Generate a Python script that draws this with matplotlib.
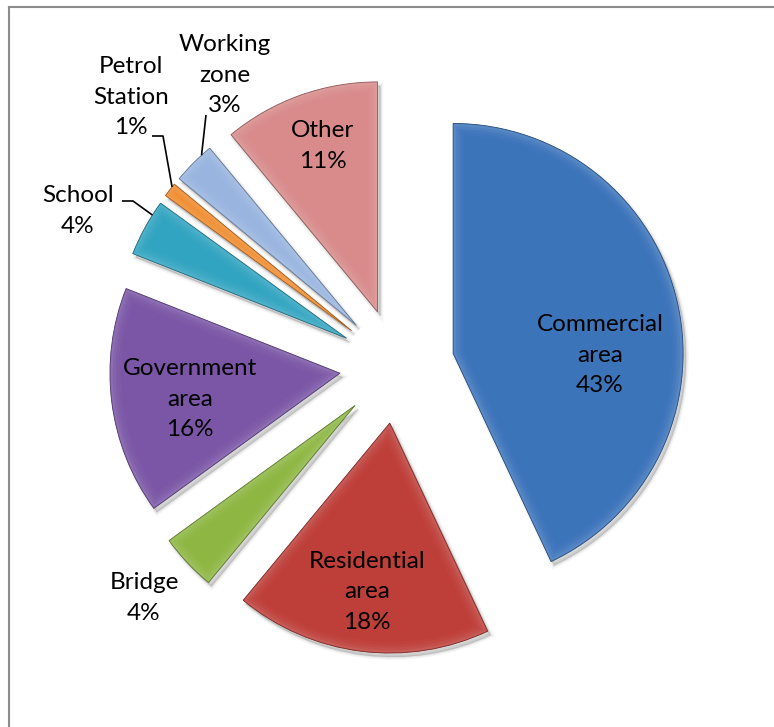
import numpy as np
import matplotlib.pyplot as plt
import matplotlib.colors as mcolors
from matplotlib.patches import Wedge
from matplotlib.lines import Line2D

# Share of locations by type (percent)
names = ['Commercial\narea', 'Residential\narea', 'Bridge', 'Government\narea',
         'School', 'Petrol\nStation', 'Working\nzone', 'Other']
shares = [43, 18, 4, 16, 4, 1, 3, 11]
colors = ['#3C74BA', '#BE3F3A', '#8DB642', '#7B56A6',
          '#31A4C1', '#F08A2C', '#98B4DF', '#D98A8B']

# label centres in pixel coords (y down)
label_xy = [(600, 355), (367, 592), (144, 598), (190, 399),
            (78, 211), (131, 97), (225, 75), (323, 146)]
# leader lines: points on the label side, the slice end is added later
leaders = {4: [(122, 201), (133, 201)],
           5: [(152, 136), (163, 136)],
           6: [(206, 115)]}

W, H = 774, 727
fig = plt.figure(figsize=(W / 100, H / 100), dpi=100)
ax = fig.add_axes([0, 0, 1, 1])

def mix(c, other, t):
    a = np.array(mcolors.to_rgb(c))
    b = np.array(mcolors.to_rgb(other))
    return tuple(a * (1 - t) + b * t)

# y axis points down, so counterclock=True runs clockwise on screen
wedges, _ = ax.pie(shares, colors=colors, startangle=-90, counterclock=True,
                   center=(397, 366), radius=230, explode=[57.5] * len(shares),
                   wedgeprops=dict(linewidth=0))
ax.set_xlim(0, W)
ax.set_ylim(H, 0)
ax.set_aspect('equal')
ax.axis('off')

for w, c in zip(wedges, colors):
    cx, cy = w.center
    w.set_zorder(3)
    # soft drop shadow, down and to the right
    for lw, a in [(4, 0.04), (2, 0.05), (0.5, 0.07)]:
        s = Wedge((cx + 3, cy + 4), w.r, w.theta1, w.theta2, facecolor='black',
                  edgecolor='black', linewidth=lw, alpha=a, zorder=1)
        ax.add_patch(s)
    # bevel: graded light rim inside the slice
    for lw, t, a in [(16, 0.2, 0.10), (12, 0.3, 0.10), (8, 0.4, 0.12), (4, 0.5, 0.14)]:
        rim = Wedge((cx, cy), w.r, w.theta1, w.theta2, facecolor='none',
                    edgecolor=mix(c, 'white', t), linewidth=lw, alpha=a, zorder=4)
        ax.add_patch(rim)
        rim.set_clip_path(w)
    ax.add_patch(Wedge((cx, cy), w.r, w.theta1, w.theta2, facecolor='none',
                       edgecolor=mix(c, 'black', 0.35), linewidth=0.6, zorder=5))

for i, (w, name, v) in enumerate(zip(wedges, names, shares)):
    x, y = label_xy[i]
    ax.text(x, y, f'{name}\n{v}%', ha='center', va='center', fontsize=17.5,
            family='Lato', color='black', linespacing=1.57, zorder=6)
    if i in leaders:
        t = np.radians(w.theta1 + 0.75 * (w.theta2 - w.theta1))
        end = (w.center[0] + w.r * np.cos(t), w.center[1] + w.r * np.sin(t))
        pts = leaders[i] + [end]
        ax.plot([p[0] for p in pts], [p[1] for p in pts], color='black',
                linewidth=1.2, zorder=6, solid_capstyle='butt')

# chart area frame
fig.add_artist(Line2D([9 / W, 1], [1 - 7 / H, 1 - 7 / H], color='#8c8c8c', linewidth=1.5))
fig.add_artist(Line2D([9 / W, 9 / W], [0, 1 - 7 / H], color='#8c8c8c', linewidth=1.5))

fig.savefig('out.png', dpi=100)
